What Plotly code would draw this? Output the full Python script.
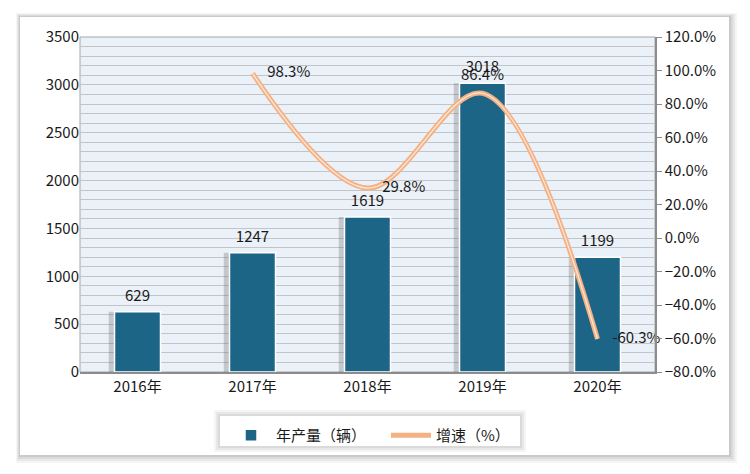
import plotly.graph_objects as go

years = ["2016年", "2017年", "2018年", "2019年", "2020年"]
output = [629, 1247, 1619, 3018, 1199]
growth_years = ["2017年", "2018年", "2019年", "2020年"]
growth = [98.3, 29.8, 86.4, -60.3]
growth_labels = ["98.3%", "29.8%", "86.4%", "-60.3%"]

FONT = "Noto Sans CJK SC, Noto Sans, sans-serif"
FS = 15

# page body adds an 8px offset; geometry below is in reference pixels
OFF = 8
L, R, T, B = 80 - OFF, 655 - OFF, 37 - OFF, 372 - OFF
W, H = 750 - OFF, 474 - OFF
def px(x):
    return (x - OFF - L) / (R - L)
def py(y):
    return (B - (y - OFF)) / (B - T)

fig = go.Figure()

# bar shadow
fig.add_trace(go.Bar(
    x=years, y=output, width=0.44, marker=dict(color="rgba(80,80,80,0.25)", line=dict(width=0)),
    showlegend=False, hoverinfo="skip", offset=-0.25))

fig.add_trace(go.Bar(
    x=years, y=output, name="年产量（辆）", width=0.4,
    marker=dict(color="#1C6587", line=dict(color="white", width=1.5))))

# bar value labels
fig.add_trace(go.Scatter(
    x=years, y=output, mode="markers+text", showlegend=False, hoverinfo="skip",
    marker=dict(size=10, color="rgba(0,0,0,0)", line=dict(width=0)),
    text=[str(v) for v in output], textposition="top center",
    textfont=dict(family=FONT, size=FS, color="#1a1a1a"), cliponaxis=False))

fig.add_trace(go.Scatter(
    x=growth_years, y=growth, yaxis="y2", mode="lines", name="增速（%）",
    line=dict(color="#F4B183", width=5, shape="spline", smoothing=1.0)))
fig.add_trace(go.Scatter(
    x=growth_years, y=growth, yaxis="y2", mode="lines+markers+text", showlegend=False,
    line=dict(color="#FDE9DC", width=1.2, shape="spline", smoothing=1.0),
    marker=dict(size=[22, 22, 14, 22], color="rgba(0,0,0,0)", line=dict(width=0)),
    text=growth_labels, textposition=["middle right", "middle right", "top center", "middle right"],
    textfont=dict(family=FONT, size=FS, color="#1a1a1a"), cliponaxis=False))

shapes = []
# outer frame shadow
fx0, fx1, fy0, fy1 = px(20), px(729), py(455), py(17)
sx, sy = 1 / (R - L), 1 / (B - T)
for i, op in enumerate([0.04, 0.05, 0.06, 0.07]):
    d = (4 - i) * 2
    shapes.append(dict(type="rect", xref="paper", yref="paper", layer="below",
                       x0=fx0 - d * 0.5 * sx, x1=fx1 + d * sx, y0=fy0 - d * sy, y1=fy1 + d * 0.5 * sy,
                       fillcolor=f"rgba(0,0,0,{op})", line=dict(width=0)))
shapes.append(dict(type="rect", xref="paper", yref="paper", layer="below",
                   x0=fx0, x1=fx1, y0=fy0, y1=fy1, fillcolor="white", line=dict(width=0)))
# legend shadow
lx0, lx1, ly0, ly1 = px(220), px(520), py(446), py(416)
for i, op in enumerate([0.04, 0.05, 0.06]):
    d = (3 - i) * 2
    shapes.append(dict(type="rect", xref="paper", yref="paper", layer="below",
                       x0=lx0 - d * sx, x1=lx1 + d * sx, y0=ly0 - d * sy, y1=ly1 + d * sy,
                       fillcolor=f"rgba(0,0,0,{op})", line=dict(width=0)))
shapes.append(dict(type="rect", xref="paper", yref="paper", layer="below",
                   x0=lx0, x1=lx1, y0=ly0, y1=ly1, fillcolor="white", line=dict(width=0)))
# plot background
shapes.append(dict(type="rect", xref="paper", yref="paper", layer="below",
                   x0=0, x1=1, y0=0, y1=1, fillcolor="#EAF1F8", line=dict(color="#A6A6A6", width=1)))

fig.update_layout(
    width=W, height=H,
    margin=dict(l=L, r=W - R, t=T, b=H - B, autoexpand=False),
    paper_bgcolor="white", plot_bgcolor="rgba(0,0,0,0)",
    barmode="overlay",
    font=dict(family=FONT, size=FS, color="#1a1a1a"),
    shapes=shapes,
    showlegend=True,
    legend=dict(orientation="h", x=px(226), y=py(419), xanchor="left", yanchor="top",
                bgcolor="rgba(0,0,0,0)", font=dict(family=FONT, size=FS, color="#1a1a1a"),
                entrywidth=105, itemwidth=40, tracegroupgap=0),
    xaxis=dict(showline=True, linecolor="#8C8C8C", linewidth=1.5, ticks="",
               tickfont=dict(family=FONT, size=FS), showgrid=False),
    yaxis=dict(range=[0, 3500], dtick=500, showline=False, ticks="",
               showgrid=True, gridcolor="#C4C4C4", gridwidth=1,
               minor=dict(dtick=100, showgrid=True, gridcolor="#C4C4C4", gridwidth=1),
               tickfont=dict(family=FONT, size=FS), zeroline=False),
    yaxis2=dict(range=[-80, 120], dtick=20, overlaying="y", side="right",
                showline=True, linecolor="#8C8C8C", linewidth=1.5,
                ticks="outside", ticklen=5, tickcolor="#8C8C8C",
                ticksuffix="%", tickformat=".1f", showgrid=False, zeroline=False,
                tickfont=dict(family=FONT, size=FS)),
)

fig.write_html("out.html")
